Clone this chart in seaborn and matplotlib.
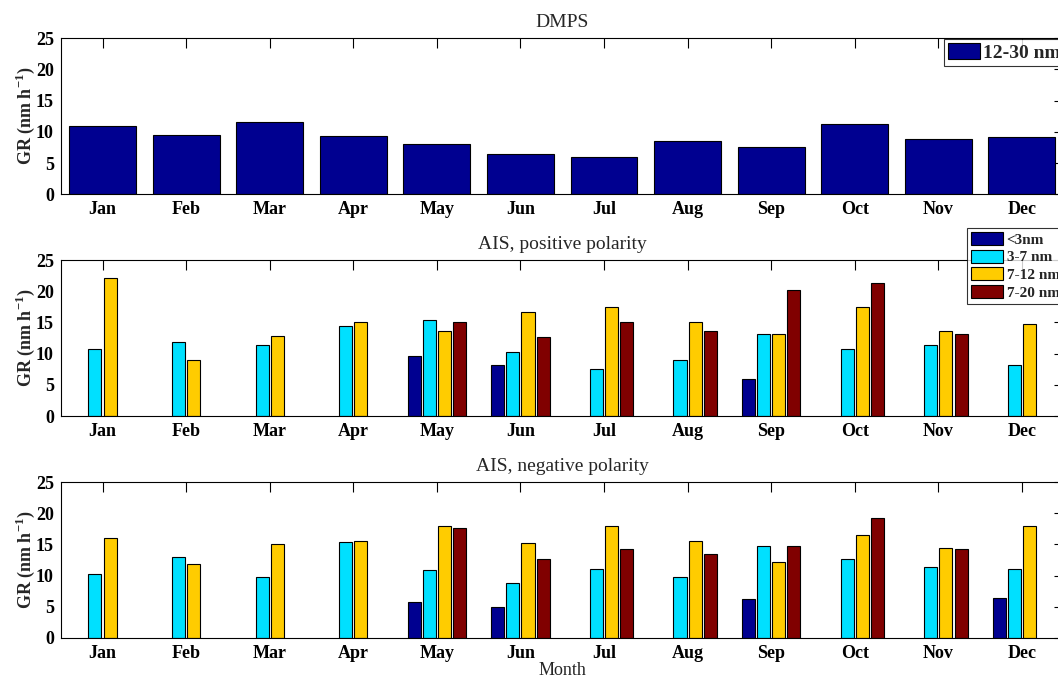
import matplotlib
matplotlib.use("Agg")
import matplotlib.pyplot as plt
from matplotlib.patches import Patch
import seaborn as sns
import pandas as pd
import numpy as np

nan = np.nan
months = ["Jan", "Feb", "Mar", "Apr", "May", "Jun", "Jul", "Aug", "Sep", "Oct", "Nov", "Dec"]
size_bins = ["<3nm", "3-7 nm", "7-12 nm", "7-20 nm"]
bin_colors = ["#000090", "#00E0FF", "#FFCC00", "#800000"]

dmps_12_30 = [10.9, 9.5, 11.5, 9.4, 8.0, 6.4, 6.0, 8.5, 7.5, 11.3, 8.8, 9.2]

pos_lt3 = [nan, nan, nan, nan, 9.7, 8.2, nan, nan, 6.0, nan, nan, nan]
pos_3_7 = [10.7, 11.8, 11.4, 14.5, 15.4, 10.2, 7.6, 8.9, 13.1, 10.7, 11.4, 8.1]
pos_7_12 = [22.2, 8.9, 12.9, 15.1, 13.7, 16.6, 17.4, 15.1, 13.2, 17.4, 13.7, 14.7]
pos_7_20 = [nan, nan, nan, nan, 15.1, 12.6, 15.0, 13.7, 20.2, 21.4, 13.1, nan]

neg_lt3 = [nan, nan, nan, nan, 5.8, 4.9, nan, nan, 6.2, nan, nan, 6.4]
neg_3_7 = [10.2, 13.0, 9.8, 15.4, 10.9, 8.8, 11.1, 9.8, 14.8, 12.7, 11.4, 11.0]
neg_7_12 = [16.1, 11.8, 15.1, 15.6, 17.9, 15.3, 17.9, 15.5, 12.2, 16.5, 14.5, 17.9]
neg_7_20 = [nan, nan, nan, nan, 17.7, 12.7, 14.3, 13.4, 14.8, 19.2, 14.2, nan]

yticks = [0, 5, 10, 15, 20, 25]


def long_frame(series_list):
    rows = []
    for name, vals in zip(size_bins, series_list):
        for m, v in zip(months, vals):
            if not np.isnan(v):
                rows.append({"Month": m, "GR": v, "Size": name})
    return pd.DataFrame(rows)


sns.set_style("white")
plt.rcParams["font.family"] = ["Liberation Serif", "DejaVu Serif"]
plt.rcParams["mathtext.fontset"] = "custom"
plt.rcParams["mathtext.rm"] = "Liberation Serif:bold"
plt.rcParams["mathtext.bf"] = "Liberation Serif:bold"

fig = plt.figure(figsize=(10.58, 6.79), dpi=100)
left, width, height = 0.0574, 0.948, 0.2297
bottoms = [0.714, 0.3873, 0.0604]
axes = [fig.add_axes([left, b, width, height]) for b in bottoms]

tick_font = dict(fontsize=13, fontweight="bold")

# Top panel: DMPS
df_top = pd.DataFrame({"Month": months, "GR": dmps_12_30})
sns.barplot(data=df_top, x="Month", y="GR", order=months, color="#000090",
            saturation=1, width=0.8, edgecolor="black", linewidth=0.8,
            errorbar=None, ax=axes[0])

# Middle and bottom panels
for ax, series in [(axes[1], [pos_lt3, pos_3_7, pos_7_12, pos_7_20]),
                   (axes[2], [neg_lt3, neg_3_7, neg_7_12, neg_7_20])]:
    df = long_frame(series)
    sns.barplot(data=df, x="Month", y="GR", hue="Size", order=months,
                hue_order=size_bins, palette=bin_colors, saturation=1,
                width=0.727, gap=0.14, dodge=True, edgecolor="black",
                linewidth=0.8, errorbar=None, legend=False, ax=ax)

titles = ["DMPS", "AIS, positive polarity", "AIS, negative polarity"]
for ax, t in zip(axes, titles):
    ax.set_xlim(-0.5, 11.5)
    ax.set_ylim(0, 25)
    ax.set_yticks(yticks)
    ax.set_yticklabels([str(v) for v in yticks], **tick_font)
    ax.set_xticks(range(len(months)))
    ax.set_xticklabels(months, **tick_font)
    ax.tick_params(direction="in", length=7, width=0.8, top=True, right=True,
                   colors="black", pad=5)
    for s in ax.spines.values():
        s.set_visible(True)
        s.set_color("black")
        s.set_linewidth(0.8)
    ax.set_title(t, fontsize=14, pad=8)
    ax.set_ylabel(r"GR (nm h$^{\mathbf{-1}}$)", fontsize=13, fontweight="bold", labelpad=-1)
    ax.set_xlabel("")

axes[2].set_xlabel("Month", fontsize=13, labelpad=0)

# Legends
leg1 = fig.legend(handles=[Patch(facecolor="#000090", edgecolor="black", linewidth=0.8, label="12-30 nm")],
                  loc="upper left", bbox_to_anchor=(0.8925, 0.942), bbox_transform=fig.transFigure,
                  prop=dict(family="Liberation Serif", weight="bold", size=14),
                  frameon=True, fancybox=False, handlelength=1.65, handleheight=0.88,
                  handletextpad=0.15, borderpad=0.2, borderaxespad=0)
leg1.get_frame().set_edgecolor("black")
leg1.get_frame().set_linewidth(0.8)

leg2 = fig.legend(handles=[Patch(facecolor=c, edgecolor="black", linewidth=0.8, label=l)
                           for c, l in zip(bin_colors, size_bins)],
                  loc="upper left", bbox_to_anchor=(0.914, 0.664), bbox_transform=fig.transFigure,
                  prop=dict(family="Liberation Serif", weight="bold", size=11),
                  frameon=True, fancybox=False, handlelength=2.1, handleheight=0.92,
                  handletextpad=0.25, borderpad=0.25, labelspacing=0.2, borderaxespad=0)
leg2.get_frame().set_edgecolor("black")
leg2.get_frame().set_linewidth(0.8)

fig.savefig("out.png", dpi=100)
